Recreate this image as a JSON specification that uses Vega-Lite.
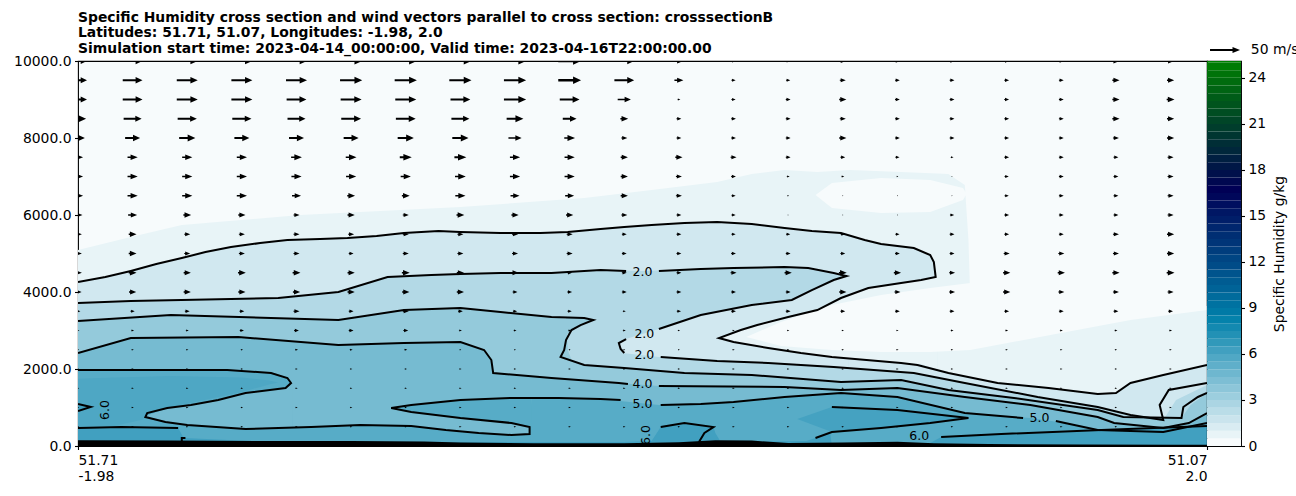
{
"$schema":"https://vega.github.io/schema/vega-lite/v6.json",
"padding":{"left":5,"top":10,"right":5,"bottom":5},
"config":{"view":{"stroke":"black","strokeWidth":1.1,"fill":"#f7fbfc"},"font":"DejaVu Sans",
"axis":{"labelFont":"DejaVu Sans","labelFontSize":13.9,"labelColor":"black","tickColor":"black","tickSize":3.5,"tickWidth":1.1,"domain":false,"grid":false,"titleFont":"DejaVu Sans","titleFontSize":13.9,"titleFontWeight":"normal","titleColor":"black","labelPadding":3.5}},
"datasets":{
"fill":[
{"p":"a01","x":0,"lo":0,"hi":5090,"q":0.75},{"p":"a01","x":2.9,"lo":0,"hi":5428,"q":0.75},{"p":"a01","x":5.7,"lo":0,"hi":5739,"q":0.75},{"p":"a01","x":12.2,"lo":0,"hi":5999,"q":0.75},{"p":"a01","x":21,"lo":0,"hi":6207,"q":0.75},{"p":"a01","x":27.8,"lo":0,"hi":6441,"q":0.75},{"p":"a01","x":31.5,"lo":0,"hi":6648,"q":0.75},{"p":"a01","x":35.1,"lo":0,"hi":6856,"q":0.75},{"p":"a01","x":37,"lo":0,"hi":7064,"q":0.75},{"p":"a01","x":38.8,"lo":0,"hi":7168,"q":0.75},{"p":"a01","x":40.6,"lo":0,"hi":7116,"q":0.75},{"p":"a01","x":42.4,"lo":0,"hi":7168,"q":0.75},{"p":"a01","x":45.2,"lo":0,"hi":7116,"q":0.75},{"p":"a01","x":47.8,"lo":0,"hi":7064,"q":0.75},{"p":"a01","x":48.7,"lo":0,"hi":6778,"q":0.75},{"p":"a01","x":48.9,"lo":0,"hi":5350,"q":0.75},{"p":"a01","x":49,"lo":0,"hi":3792,"q":0.75},{"p":"a01","x":53.4,"lo":0,"hi":3532,"q":0.75},{"p":"a01","x":57.8,"lo":0,"hi":3480,"q":0.75},{"p":"a01","x":62,"lo":0,"hi":3532,"q":0.75},
{"p":"a02","x":0,"lo":0,"hi":4259,"q":1.5},{"p":"a02","x":1.5,"lo":0,"hi":4389,"q":1.5},{"p":"a02","x":2.9,"lo":0,"hi":4545,"q":1.5},{"p":"a02","x":4.3,"lo":0,"hi":4727,"q":1.5},{"p":"a02","x":5.7,"lo":0,"hi":4882,"q":1.5},{"p":"a02","x":7,"lo":0,"hi":5038,"q":1.5},{"p":"a02","x":8.4,"lo":0,"hi":5168,"q":1.5},{"p":"a02","x":10,"lo":0,"hi":5272,"q":1.5},{"p":"a02","x":11.5,"lo":0,"hi":5350,"q":1.5},{"p":"a02","x":13.3,"lo":0,"hi":5376,"q":1.5},{"p":"a02","x":14.8,"lo":0,"hi":5402,"q":1.5},{"p":"a02","x":16.4,"lo":0,"hi":5454,"q":1.5},{"p":"a02","x":17.9,"lo":0,"hi":5532,"q":1.5},{"p":"a02","x":19.8,"lo":0,"hi":5584,"q":1.5},{"p":"a02","x":21,"lo":0,"hi":5558,"q":1.5},{"p":"a02","x":23.2,"lo":0,"hi":5532,"q":1.5},{"p":"a02","x":25.4,"lo":0,"hi":5532,"q":1.5},{"p":"a02","x":26.9,"lo":0,"hi":5558,"q":1.5},{"p":"a02","x":28.7,"lo":0,"hi":5635,"q":1.5},{"p":"a02","x":30,"lo":0,"hi":5687,"q":1.5},{"p":"a02","x":31.5,"lo":0,"hi":5739,"q":1.5},{"p":"a02","x":33.3,"lo":0,"hi":5791,"q":1.5},{"p":"a02","x":35.1,"lo":0,"hi":5817,"q":1.5},{"p":"a02","x":37,"lo":0,"hi":5765,"q":1.5},{"p":"a02","x":38.8,"lo":0,"hi":5661,"q":1.5},{"p":"a02","x":40.3,"lo":0,"hi":5584,"q":1.5},{"p":"a02","x":41.9,"lo":0,"hi":5532,"q":1.5},{"p":"a02","x":43.2,"lo":0,"hi":5350,"q":1.5},{"p":"a02","x":44.1,"lo":0,"hi":5246,"q":1.5},{"p":"a02","x":45.9,"lo":0,"hi":5142,"q":1.5},{"p":"a02","x":46.8,"lo":0,"hi":4960,"q":1.5},{"p":"a02","x":47,"lo":0,"hi":4778,"q":1.5},{"p":"a02","x":47.1,"lo":0,"hi":4389,"q":1.5},{"p":"a02","x":47.2,"lo":0,"hi":1974,"q":1.5},{"p":"a02","x":47.8,"lo":0,"hi":1896,"q":1.5},{"p":"a02","x":50.5,"lo":0,"hi":1636,"q":1.5},{"p":"a02","x":53.3,"lo":0,"hi":1506,"q":1.5},{"p":"a02","x":56,"lo":0,"hi":1350,"q":1.5},{"p":"a02","x":57,"lo":0,"hi":1376,"q":1.5},{"p":"a02","x":57.8,"lo":0,"hi":1636,"q":1.5},{"p":"a02","x":59.6,"lo":0,"hi":1844,"q":1.5},{"p":"a02","x":62,"lo":0,"hi":2104,"q":1.5},
{"p":"a03","x":0,"lo":0,"hi":3714,"q":2.5},{"p":"a03","x":2.9,"lo":0,"hi":3766,"q":2.5},{"p":"a03","x":5.7,"lo":0,"hi":3792,"q":2.5},{"p":"a03","x":8.4,"lo":0,"hi":3818,"q":2.5},{"p":"a03","x":11,"lo":0,"hi":3844,"q":2.5},{"p":"a03","x":14.3,"lo":0,"hi":3999,"q":2.5},{"p":"a03","x":17,"lo":0,"hi":4389,"q":2.5},{"p":"a03","x":19.4,"lo":0,"hi":4441,"q":2.5},{"p":"a03","x":21,"lo":0,"hi":4467,"q":2.5},{"p":"a03","x":23.2,"lo":0,"hi":4493,"q":2.5},{"p":"a03","x":26,"lo":0,"hi":4493,"q":2.5},{"p":"a03","x":28.7,"lo":0,"hi":4571,"q":2.5},{"p":"a03","x":31,"lo":0,"hi":4545,"q":2.5},{"p":"a03","x":34.2,"lo":0,"hi":4597,"q":2.5},{"p":"a03","x":36,"lo":0,"hi":4623,"q":2.5},{"p":"a03","x":38.8,"lo":0,"hi":4649,"q":2.5},{"p":"a03","x":40.1,"lo":0,"hi":4623,"q":2.5},{"p":"a03","x":41.5,"lo":0,"hi":4493,"q":2.5},{"p":"a03","x":42.2,"lo":0,"hi":4415,"q":2.5},{"p":"a03","x":42.3,"lo":0,"hi":2026,"q":2.5},{"p":"a03","x":45.9,"lo":0,"hi":1896,"q":2.5},{"p":"a03","x":48.7,"lo":0,"hi":1636,"q":2.5},{"p":"a03","x":52.7,"lo":0,"hi":1273,"q":2.5},{"p":"a03","x":56,"lo":0,"hi":1013,"q":2.5},{"p":"a03","x":57.8,"lo":0,"hi":805,"q":2.5},{"p":"a03","x":59.6,"lo":0,"hi":675,"q":2.5},{"p":"a03","x":60.3,"lo":0,"hi":1195,"q":2.5},{"p":"a03","x":62,"lo":0,"hi":1584,"q":2.5},
{"p":"a04","x":29.7,"lo":2597,"hi":2597,"q":1.5},{"p":"a04","x":29.9,"lo":2415,"hi":2753,"q":1.5},{"p":"a04","x":31.9,"lo":2311,"hi":3038,"q":1.5},{"p":"a04","x":34.2,"lo":2259,"hi":3402,"q":1.5},{"p":"a04","x":37,"lo":2181,"hi":3662,"q":1.5},{"p":"a04","x":39.2,"lo":2130,"hi":3792,"q":1.5},{"p":"a04","x":40.3,"lo":2104,"hi":4051,"q":1.5},{"p":"a04","x":41.5,"lo":2052,"hi":4311,"q":1.5},{"p":"a04","x":42.2,"lo":2026,"hi":4415,"q":1.5},{"p":"a04","x":42.3,"lo":2026,"hi":4415,"q":1.5},
{"p":"a05","x":35.2,"lo":2805,"hi":2805,"q":0.75},{"p":"a05","x":36,"lo":2701,"hi":2935,"q":0.75},{"p":"a05","x":37.3,"lo":2597,"hi":3142,"q":0.75},{"p":"a05","x":39,"lo":2467,"hi":3350,"q":0.75},{"p":"a05","x":40.6,"lo":2363,"hi":3532,"q":0.75},{"p":"a05","x":41.9,"lo":2285,"hi":3844,"q":0.75},{"p":"a05","x":43.4,"lo":2233,"hi":4103,"q":0.75},{"p":"a05","x":45.2,"lo":2155,"hi":4233,"q":0.75},{"p":"a05","x":46.3,"lo":2130,"hi":4311,"q":0.75},{"p":"a05","x":47.1,"lo":2000,"hi":4389,"q":0.75},{"p":"a05","x":47.2,"lo":1974,"hi":4389,"q":0.75},
{"p":"a06","x":36.7,"lo":2831,"hi":2831,"q":0.25},{"p":"a06","x":38.6,"lo":2597,"hi":3220,"q":0.25},{"p":"a06","x":41.4,"lo":2493,"hi":3662,"q":0.25},{"p":"a06","x":44.1,"lo":2441,"hi":3921,"q":0.25},{"p":"a06","x":46.8,"lo":2441,"hi":4103,"q":0.25},{"p":"a06","x":49,"lo":2493,"hi":4233,"q":0.25},{"p":"a06","x":53.4,"lo":2883,"hi":3844,"q":0.25},{"p":"a06","x":57.8,"lo":3272,"hi":3714,"q":0.25},{"p":"a06","x":62,"lo":3532,"hi":3636,"q":0.25},
{"p":"a07","x":40.5,"lo":6518,"hi":6518,"q":0.25},{"p":"a07","x":41.4,"lo":6181,"hi":6830,"q":0.25},{"p":"a07","x":44.1,"lo":6051,"hi":6960,"q":0.25},{"p":"a07","x":46.8,"lo":6077,"hi":6908,"q":0.25},{"p":"a07","x":48.6,"lo":6389,"hi":6700,"q":0.25},{"p":"a07","x":48.8,"lo":6544,"hi":6544,"q":0.25},
{"p":"a08","x":0,"lo":0,"hi":3246,"q":3.5},{"p":"a08","x":5.1,"lo":0,"hi":3402,"q":3.5},{"p":"a08","x":10.6,"lo":0,"hi":3324,"q":3.5},{"p":"a08","x":14.3,"lo":0,"hi":3272,"q":3.5},{"p":"a08","x":17.9,"lo":0,"hi":3532,"q":3.5},{"p":"a08","x":21,"lo":0,"hi":3584,"q":3.5},{"p":"a08","x":23.2,"lo":0,"hi":3480,"q":3.5},{"p":"a08","x":26,"lo":0,"hi":3350,"q":3.5},{"p":"a08","x":26.8,"lo":0,"hi":3298,"q":3.5},{"p":"a08","x":26.9,"lo":0,"hi":2493,"q":3.5},{"p":"a08","x":27.1,"lo":0,"hi":2233,"q":3.5},{"p":"a08","x":27.8,"lo":0,"hi":2104,"q":3.5},{"p":"a08","x":30,"lo":0,"hi":2026,"q":3.5},{"p":"a08","x":33.3,"lo":0,"hi":1896,"q":3.5},{"p":"a08","x":37,"lo":0,"hi":1844,"q":3.5},{"p":"a08","x":41.9,"lo":0,"hi":1662,"q":3.5},{"p":"a08","x":45.2,"lo":0,"hi":1714,"q":3.5},{"p":"a08","x":47.8,"lo":0,"hi":1454,"q":3.5},{"p":"a08","x":51.4,"lo":0,"hi":1247,"q":3.5},{"p":"a08","x":56,"lo":0,"hi":935,"q":3.5},{"p":"a08","x":57.4,"lo":0,"hi":753,"q":3.5},{"p":"a08","x":60.6,"lo":0,"hi":727,"q":3.5},{"p":"a08","x":61.1,"lo":0,"hi":1065,"q":3.5},{"p":"a08","x":62,"lo":0,"hi":1376,"q":3.5},
{"p":"a09","x":26.8,"lo":2883,"hi":3324,"q":3.5},{"p":"a09","x":27.6,"lo":3142,"hi":3324,"q":3.5},{"p":"a09","x":28.3,"lo":3272,"hi":3272,"q":3.5},
{"p":"a10","x":0,"lo":0,"hi":2415,"q":4.5},{"p":"a10","x":2.9,"lo":0,"hi":2805,"q":4.5},{"p":"a10","x":8.8,"lo":0,"hi":2831,"q":4.5},{"p":"a10","x":14.3,"lo":0,"hi":2623,"q":4.5},{"p":"a10","x":17.9,"lo":0,"hi":2675,"q":4.5},{"p":"a10","x":21,"lo":0,"hi":2701,"q":4.5},{"p":"a10","x":22.3,"lo":0,"hi":2493,"q":4.5},{"p":"a10","x":22.7,"lo":0,"hi":2233,"q":4.5},{"p":"a10","x":22.8,"lo":0,"hi":1896,"q":4.5},{"p":"a10","x":26,"lo":0,"hi":1766,"q":4.5},{"p":"a10","x":29.7,"lo":0,"hi":1636,"q":4.5},{"p":"a10","x":31.9,"lo":0,"hi":1558,"q":4.5},{"p":"a10","x":38.8,"lo":0,"hi":1532,"q":4.5},{"p":"a10","x":41.9,"lo":0,"hi":1454,"q":4.5},{"p":"a10","x":45,"lo":0,"hi":1506,"q":4.5},{"p":"a10","x":48.7,"lo":0,"hi":1273,"q":4.5},{"p":"a10","x":52.3,"lo":0,"hi":1065,"q":4.5},{"p":"a10","x":56,"lo":0,"hi":753,"q":4.5},{"p":"a10","x":56.9,"lo":0,"hi":597,"q":4.5},{"p":"a10","x":59.6,"lo":0,"hi":467,"q":4.5},{"p":"a10","x":61,"lo":0,"hi":597,"q":4.5},{"p":"a10","x":62,"lo":0,"hi":857,"q":4.5},
{"p":"a11","x":0,"lo":0,"hi":1974,"q":5.5},{"p":"a11","x":4.6,"lo":0,"hi":1974,"q":5.5},{"p":"a11","x":8.2,"lo":0,"hi":1974,"q":5.5},{"p":"a11","x":10.6,"lo":0,"hi":1896,"q":5.5},{"p":"a11","x":11.5,"lo":0,"hi":1766,"q":5.5},{"p":"a11","x":11.7,"lo":0,"hi":1636,"q":5.5},{"p":"a11","x":11.8,"lo":0,"hi":467,"q":5.5},{"p":"a11","x":12.8,"lo":0,"hi":493,"q":5.5},{"p":"a11","x":15.5,"lo":0,"hi":545,"q":5.5},{"p":"a11","x":18.3,"lo":0,"hi":519,"q":5.5},{"p":"a11","x":20.2,"lo":0,"hi":416,"q":5.5},{"p":"a11","x":22,"lo":0,"hi":338,"q":5.5},{"p":"a11","x":23.8,"lo":0,"hi":286,"q":5.5},{"p":"a11","x":24.8,"lo":0,"hi":312,"q":5.5},{"p":"a11","x":24.9,"lo":0,"hi":1247,"q":5.5},{"p":"a11","x":26.4,"lo":0,"hi":1247,"q":5.5},{"p":"a11","x":28.7,"lo":0,"hi":1221,"q":5.5},{"p":"a11","x":31.9,"lo":0,"hi":1065,"q":5.5},{"p":"a11","x":34.2,"lo":0,"hi":1091,"q":5.5},{"p":"a11","x":36,"lo":0,"hi":1143,"q":5.5},{"p":"a11","x":38.8,"lo":0,"hi":1273,"q":5.5},{"p":"a11","x":41.9,"lo":0,"hi":1376,"q":5.5},{"p":"a11","x":45,"lo":0,"hi":1273,"q":5.5},{"p":"a11","x":48.7,"lo":0,"hi":857,"q":5.5},{"p":"a11","x":52.3,"lo":0,"hi":727,"q":5.5},{"p":"a11","x":54.2,"lo":0,"hi":597,"q":5.5},{"p":"a11","x":56,"lo":0,"hi":416,"q":5.5},{"p":"a11","x":59.6,"lo":0,"hi":364,"q":5.5},{"p":"a11","x":62,"lo":0,"hi":597,"q":5.5},
{"p":"a11b","x":0,"lo":500,"hi":1750,"q":5.8},{"p":"a11b","x":2,"lo":520,"hi":1780,"q":5.8},{"p":"a11b","x":3.7,"lo":700,"hi":1800,"q":5.8},{"p":"a11b","x":5,"lo":1000,"hi":1820,"q":5.8},{"p":"a11b","x":7,"lo":1200,"hi":1800,"q":5.8},{"p":"a11b","x":9,"lo":1400,"hi":1780,"q":5.8},{"p":"a11b","x":10.5,"lo":1600,"hi":1700,"q":5.8},{"p":"a11b","x":11,"lo":1650,"hi":1650,"q":5.8},
{"p":"a12","x":3.7,"lo":779,"hi":779,"q":4.5},{"p":"a12","x":4.8,"lo":623,"hi":961,"q":4.5},{"p":"a12","x":6,"lo":545,"hi":1065,"q":4.5},{"p":"a12","x":7.7,"lo":493,"hi":1195,"q":4.5},{"p":"a12","x":9.2,"lo":467,"hi":1376,"q":4.5},{"p":"a12","x":10.6,"lo":467,"hi":1480,"q":4.5},{"p":"a12","x":11.4,"lo":467,"hi":1506,"q":4.5},{"p":"a12","x":11.7,"lo":467,"hi":1636,"q":4.5},{"p":"a12","x":11.8,"lo":467,"hi":1636,"q":4.5},
{"p":"a13","x":17.2,"lo":987,"hi":987,"q":5.5},{"p":"a13","x":18.3,"lo":883,"hi":1065,"q":5.5},{"p":"a13","x":21,"lo":727,"hi":1195,"q":5.5},{"p":"a13","x":23.8,"lo":597,"hi":1247,"q":5.5},{"p":"a13","x":24.8,"lo":493,"hi":1247,"q":5.5},{"p":"a13","x":24.9,"lo":312,"hi":1247,"q":5.5},
{"p":"a14","x":0,"lo":0,"hi":467,"q":6.25},{"p":"a14","x":2.4,"lo":0,"hi":493,"q":6.25},{"p":"a14","x":5.5,"lo":0,"hi":467,"q":6.25},{"p":"a14","x":5.8,"lo":0,"hi":208,"q":6.25},{"p":"a14","x":9.5,"lo":0,"hi":130,"q":6.25},{"p":"a14","x":20,"lo":0,"hi":104,"q":6.25},{"p":"a14","x":30,"lo":0,"hi":104,"q":6.25},{"p":"a14","x":31.5,"lo":0,"hi":130,"q":6.25},{"p":"a14","x":32,"lo":0,"hi":493,"q":6.25},{"p":"a14","x":33.3,"lo":0,"hi":597,"q":6.25},{"p":"a14","x":34.9,"lo":0,"hi":493,"q":6.25},{"p":"a14","x":35,"lo":0,"hi":338,"q":6.25},{"p":"a14","x":35.3,"lo":0,"hi":104,"q":6.25},{"p":"a14","x":40,"lo":0,"hi":130,"q":6.25},{"p":"a14","x":40.5,"lo":0,"hi":208,"q":6.25},{"p":"a14","x":41.3,"lo":0,"hi":364,"q":6.25},{"p":"a14","x":41.4,"lo":0,"hi":0,"q":6.25},
{"p":"a15","x":0,"lo":909,"hi":1091,"q":6.25},{"p":"a15","x":0.7,"lo":1013,"hi":1013,"q":6.25},
{"p":"a16","x":39.5,"lo":700,"hi":700,"q":6.1},{"p":"a16","x":41.4,"lo":364,"hi":1013,"q":6.1},{"p":"a16","x":44.1,"lo":467,"hi":961,"q":6.1},{"p":"a16","x":45,"lo":493,"hi":935,"q":6.1},{"p":"a16","x":46.8,"lo":597,"hi":831,"q":6.1},{"p":"a16","x":48.9,"lo":727,"hi":727,"q":6.1},
{"p":"a17","x":46.5,"lo":0,"hi":0,"q":6.25},{"p":"a17","x":47.4,"lo":0,"hi":234,"q":6.25},{"p":"a17","x":50.7,"lo":0,"hi":312,"q":6.25},{"p":"a17","x":56.2,"lo":0,"hi":416,"q":6.25},{"p":"a17","x":62,"lo":0,"hi":519,"q":6.25}
],
"terrain":[{"x":0,"h":150},{"x":5,"h":140},{"x":10,"h":130},{"x":15,"h":130},{"x":19,"h":120},{"x":21,"h":90},{"x":25,"h":70},{"x":30,"h":70},{"x":33,"h":100},{"x":35,"h":150},{"x":37,"h":140},{"x":39,"h":80},{"x":42,"h":90},{"x":45,"h":110},{"x":47,"h":70},{"x":50,"h":50},{"x":55,"h":40},{"x":60,"h":30},{"x":62,"h":30}],
"cont":[
{"c":"c1","o":1,"x":0,"z":4259},{"c":"c1","o":2,"x":1.5,"z":4389},{"c":"c1","o":3,"x":2.9,"z":4545},{"c":"c1","o":4,"x":4.3,"z":4727},{"c":"c1","o":5,"x":5.7,"z":4882},{"c":"c1","o":6,"x":7,"z":5038},{"c":"c1","o":7,"x":8.4,"z":5168},{"c":"c1","o":8,"x":10,"z":5272},{"c":"c1","o":9,"x":11.5,"z":5350},{"c":"c1","o":10,"x":13.3,"z":5376},{"c":"c1","o":11,"x":14.8,"z":5402},{"c":"c1","o":12,"x":16.4,"z":5454},{"c":"c1","o":13,"x":17.9,"z":5532},{"c":"c1","o":14,"x":19.8,"z":5584},{"c":"c1","o":15,"x":21,"z":5558},{"c":"c1","o":16,"x":23.2,"z":5532},{"c":"c1","o":17,"x":25.4,"z":5532},{"c":"c1","o":18,"x":26.9,"z":5558},{"c":"c1","o":19,"x":28.7,"z":5635},{"c":"c1","o":20,"x":30,"z":5687},{"c":"c1","o":21,"x":31.5,"z":5739},{"c":"c1","o":22,"x":33.3,"z":5791},{"c":"c1","o":23,"x":35.1,"z":5817},{"c":"c1","o":24,"x":37,"z":5765},{"c":"c1","o":25,"x":38.8,"z":5661},{"c":"c1","o":26,"x":40.3,"z":5584},{"c":"c1","o":27,"x":41.9,"z":5532},{"c":"c1","o":28,"x":43.2,"z":5350},{"c":"c1","o":29,"x":44.1,"z":5246},{"c":"c1","o":30,"x":45.9,"z":5142},{"c":"c1","o":31,"x":46.8,"z":4960},{"c":"c1","o":32,"x":47,"z":4778},{"c":"c1","o":33,"x":47.1,"z":4389},{"c":"c1","o":34,"x":46.3,"z":4311},{"c":"c1","o":35,"x":45.2,"z":4233},{"c":"c1","o":36,"x":43.4,"z":4103},{"c":"c1","o":37,"x":41.9,"z":3844},{"c":"c1","o":38,"x":40.6,"z":3532},{"c":"c1","o":39,"x":39,"z":3350},{"c":"c1","o":40,"x":37.3,"z":3142},{"c":"c1","o":41,"x":36.4,"z":3013},{"c":"c1","o":42,"x":35.2,"z":2805},{"c":"c1","o":43,"x":36,"z":2701},{"c":"c1","o":44,"x":37.9,"z":2545},{"c":"c1","o":45,"x":39.7,"z":2415},{"c":"c1","o":46,"x":41.4,"z":2311},{"c":"c1","o":47,"x":45.2,"z":2155},{"c":"c1","o":48,"x":46.1,"z":2104},{"c":"c1","o":49,"x":47.8,"z":1896},{"c":"c1","o":50,"x":50.5,"z":1636},{"c":"c1","o":51,"x":53.3,"z":1506},{"c":"c1","o":52,"x":56,"z":1350},{"c":"c1","o":53,"x":57,"z":1376},{"c":"c1","o":54,"x":57.8,"z":1636},{"c":"c1","o":55,"x":59.6,"z":1844},{"c":"c1","o":56,"x":62,"z":2104},
{"c":"c2a","o":1,"x":0,"z":3714},{"c":"c2a","o":2,"x":2.9,"z":3766},{"c":"c2a","o":3,"x":5.7,"z":3792},{"c":"c2a","o":4,"x":8.4,"z":3818},{"c":"c2a","o":5,"x":11,"z":3844},{"c":"c2a","o":6,"x":14.3,"z":3999},{"c":"c2a","o":7,"x":17,"z":4389},{"c":"c2a","o":8,"x":19.4,"z":4441},{"c":"c2a","o":9,"x":21,"z":4467},{"c":"c2a","o":10,"x":23.2,"z":4493},{"c":"c2a","o":11,"x":26,"z":4493},{"c":"c2a","o":12,"x":28.7,"z":4571},{"c":"c2a","o":13,"x":30.1,"z":4545},
{"c":"c2b","o":1,"x":31.9,"z":4545},{"c":"c2b","o":2,"x":34.2,"z":4597},{"c":"c2b","o":3,"x":36,"z":4623},{"c":"c2b","o":4,"x":38.8,"z":4649},{"c":"c2b","o":5,"x":40.1,"z":4623},{"c":"c2b","o":6,"x":41.5,"z":4493},{"c":"c2b","o":7,"x":42.2,"z":4415},{"c":"c2b","o":8,"x":41.5,"z":4311},{"c":"c2b","o":9,"x":40.3,"z":4051},{"c":"c2b","o":10,"x":39.2,"z":3792},{"c":"c2b","o":11,"x":37,"z":3662},{"c":"c2b","o":12,"x":34.2,"z":3402},{"c":"c2b","o":13,"x":31.9,"z":3038},
{"c":"c2c","o":1,"x":30.1,"z":2779},{"c":"c2c","o":2,"x":29.7,"z":2675},{"c":"c2c","o":3,"x":29.8,"z":2519},{"c":"c2c","o":4,"x":30,"z":2415},
{"c":"c2d","o":1,"x":32,"z":2311},{"c":"c2d","o":2,"x":35.1,"z":2207},{"c":"c2d","o":3,"x":37.9,"z":2155},{"c":"c2d","o":4,"x":41.5,"z":2052},{"c":"c2d","o":5,"x":45.9,"z":1896},{"c":"c2d","o":6,"x":48.7,"z":1636},{"c":"c2d","o":7,"x":52.7,"z":1273},{"c":"c2d","o":8,"x":56,"z":1013},{"c":"c2d","o":9,"x":57.8,"z":805},{"c":"c2d","o":10,"x":59.6,"z":675},{"c":"c2d","o":11,"x":59.4,"z":1065},{"c":"c2d","o":12,"x":59.9,"z":1454},{"c":"c2d","o":13,"x":62,"z":1636},
{"c":"c3","o":1,"x":0,"z":3246},{"c":"c3","o":2,"x":5.1,"z":3402},{"c":"c3","o":3,"x":10.6,"z":3324},{"c":"c3","o":4,"x":14.3,"z":3272},{"c":"c3","o":5,"x":17.9,"z":3532},{"c":"c3","o":6,"x":21,"z":3584},{"c":"c3","o":7,"x":23.2,"z":3480},{"c":"c3","o":8,"x":26,"z":3350},{"c":"c3","o":9,"x":27.8,"z":3324},{"c":"c3","o":10,"x":28.3,"z":3272},{"c":"c3","o":11,"x":27.6,"z":3142},{"c":"c3","o":12,"x":27.1,"z":3013},{"c":"c3","o":13,"x":26.8,"z":2753},{"c":"c3","o":14,"x":26.7,"z":2493},{"c":"c3","o":15,"x":26.5,"z":2311},{"c":"c3","o":16,"x":27.8,"z":2104},{"c":"c3","o":17,"x":30,"z":2026},{"c":"c3","o":18,"x":33.3,"z":1896},{"c":"c3","o":19,"x":37,"z":1844},{"c":"c3","o":20,"x":41.9,"z":1662},{"c":"c3","o":21,"x":45.2,"z":1714},{"c":"c3","o":22,"x":47.8,"z":1454},{"c":"c3","o":23,"x":51.4,"z":1247},{"c":"c3","o":24,"x":56,"z":935},{"c":"c3","o":25,"x":57.4,"z":753},{"c":"c3","o":26,"x":60.6,"z":727},{"c":"c3","o":27,"x":60.7,"z":1013},{"c":"c3","o":28,"x":61.5,"z":1273},{"c":"c3","o":29,"x":62,"z":1376},
{"c":"c4a","o":1,"x":0,"z":2415},{"c":"c4a","o":2,"x":2.9,"z":2805},{"c":"c4a","o":3,"x":8.8,"z":2831},{"c":"c4a","o":4,"x":14.3,"z":2623},{"c":"c4a","o":5,"x":17.9,"z":2675},{"c":"c4a","o":6,"x":21,"z":2701},{"c":"c4a","o":7,"x":22.3,"z":2493},{"c":"c4a","o":8,"x":22.7,"z":2233},{"c":"c4a","o":9,"x":22.8,"z":1896},{"c":"c4a","o":10,"x":26,"z":1766},{"c":"c4a","o":11,"x":29.7,"z":1636},{"c":"c4a","o":12,"x":30.2,"z":1610},
{"c":"c4b","o":1,"x":31.9,"z":1558},{"c":"c4b","o":2,"x":38.8,"z":1532},{"c":"c4b","o":3,"x":41.9,"z":1454},{"c":"c4b","o":4,"x":45,"z":1506},{"c":"c4b","o":5,"x":48.7,"z":1273},{"c":"c4b","o":6,"x":52.3,"z":1065},{"c":"c4b","o":7,"x":56,"z":753},{"c":"c4b","o":8,"x":56.9,"z":597},{"c":"c4b","o":9,"x":59.6,"z":467},{"c":"c4b","o":10,"x":61,"z":597},{"c":"c4b","o":11,"x":62,"z":857},
{"c":"c5a","o":1,"x":0,"z":1974},{"c":"c5a","o":2,"x":4.6,"z":1974},{"c":"c5a","o":3,"x":8.2,"z":1974},{"c":"c5a","o":4,"x":10.6,"z":1896},{"c":"c5a","o":5,"x":11.5,"z":1766},{"c":"c5a","o":6,"x":11.7,"z":1636},{"c":"c5a","o":7,"x":11.4,"z":1506},{"c":"c5a","o":8,"x":9.2,"z":1376},{"c":"c5a","o":9,"x":7.7,"z":1195},{"c":"c5a","o":10,"x":6.2,"z":1065},{"c":"c5a","o":11,"x":4.9,"z":987},{"c":"c5a","o":12,"x":3.8,"z":857},{"c":"c5a","o":13,"x":3.7,"z":753},{"c":"c5a","o":14,"x":4.8,"z":623},{"c":"c5a","o":15,"x":6,"z":545},{"c":"c5a","o":16,"x":9.2,"z":441},{"c":"c5a","o":17,"x":12.8,"z":493},{"c":"c5a","o":18,"x":15.5,"z":545},{"c":"c5a","o":19,"x":18.3,"z":519},{"c":"c5a","o":20,"x":20.2,"z":416},{"c":"c5a","o":21,"x":22,"z":338},{"c":"c5a","o":22,"x":23.8,"z":286},{"c":"c5a","o":23,"x":24.8,"z":312},{"c":"c5a","o":24,"x":24.8,"z":493},{"c":"c5a","o":25,"x":23.8,"z":597},{"c":"c5a","o":26,"x":21,"z":727},{"c":"c5a","o":27,"x":18.3,"z":883},{"c":"c5a","o":28,"x":17.2,"z":987},{"c":"c5a","o":29,"x":18.3,"z":1065},{"c":"c5a","o":30,"x":21,"z":1195},{"c":"c5a","o":31,"x":23.8,"z":1247},{"c":"c5a","o":32,"x":26.4,"z":1247},{"c":"c5a","o":33,"x":28.7,"z":1221},{"c":"c5a","o":34,"x":29.8,"z":1195},
{"c":"c5b","o":1,"x":32,"z":1065},{"c":"c5b","o":2,"x":34.2,"z":1091},{"c":"c5b","o":3,"x":36,"z":1143},{"c":"c5b","o":4,"x":38.8,"z":1273},{"c":"c5b","o":5,"x":41.9,"z":1376},{"c":"c5b","o":6,"x":45,"z":1273},{"c":"c5b","o":7,"x":48.7,"z":857},{"c":"c5b","o":8,"x":51.9,"z":727},
{"c":"c5c","o":1,"x":53.7,"z":649},{"c":"c5c","o":2,"x":54.2,"z":597},{"c":"c5c","o":3,"x":56,"z":416},{"c":"c5c","o":4,"x":59.6,"z":364},{"c":"c5c","o":5,"x":62,"z":597},
{"c":"c6a","o":1,"x":0,"z":1091},{"c":"c6a","o":2,"x":0.7,"z":1013},{"c":"c6a","o":3,"x":0,"z":909},
{"c":"c6b","o":1,"x":0,"z":467},{"c":"c6b","o":2,"x":2.4,"z":493},{"c":"c6b","o":3,"x":5.5,"z":467},
{"c":"c6f","o":1,"x":5.9,"z":208},{"c":"c6f","o":2,"x":5.7,"z":208},{"c":"c6f","o":3,"x":5.7,"z":0},
{"c":"c6c","o":1,"x":32,"z":493},{"c":"c6c","o":2,"x":33.3,"z":597},{"c":"c6c","o":3,"x":34.9,"z":493},{"c":"c6c","o":4,"x":34.4,"z":338},{"c":"c6c","o":5,"x":34.1,"z":104},
{"c":"c6d","o":1,"x":41.4,"z":1013},{"c":"c6d","o":2,"x":45,"z":935},{"c":"c6d","o":3,"x":48.9,"z":727},{"c":"c6d","o":4,"x":46.8,"z":597},{"c":"c6d","o":5,"x":44.1,"z":467},{"c":"c6d","o":6,"x":41.4,"z":364},{"c":"c6d","o":7,"x":40.5,"z":208},
{"c":"c6e","o":1,"x":47.4,"z":234},{"c":"c6e","o":2,"x":50.7,"z":312},{"c":"c6e","o":3,"x":56.2,"z":416},{"c":"c6e","o":4,"x":62,"z":519}
],
"labs":[{"t":"2.0","x":31,"z":4519},{"t":"2.0","x":31.1,"z":2909},{"t":"2.0","x":31.1,"z":2363},{"t":"4.0","x":31,"z":1610},{"t":"5.0","x":31,"z":1091},{"t":"5.0","x":52.8,"z":727},{"t":"6.0","x":46.2,"z":260}],
"vlabs":[{"t":"6.0","x":1.5,"z":935},{"t":"6.0","x":31.2,"z":286}],
"wind":[
{"x":0,"z":10000,"s":30},{"x":3,"z":10000,"s":33},{"x":6,"z":10000,"s":35},{"x":9,"z":10000,"s":35},{"x":12,"z":10000,"s":35},{"x":15,"z":10000,"s":37},{"x":18,"z":10000,"s":37},{"x":21,"z":10000,"s":37},{"x":24,"z":10000,"s":37},{"x":27,"z":10000,"s":38},{"x":30,"z":10000,"s":33},{"x":33,"z":10000,"s":15},{"x":36,"z":10000,"s":7},{"x":39,"z":10000,"s":7},{"x":42,"z":10000,"s":10},{"x":45,"z":10000,"s":8},{"x":48,"z":10000,"s":8},{"x":51,"z":10000,"s":8},{"x":54,"z":10000,"s":8},{"x":57,"z":10000,"s":12},{"x":60,"z":10000,"s":12},
{"x":0,"z":9500,"s":30},{"x":3,"z":9500,"s":33},{"x":6,"z":9500,"s":35},{"x":9,"z":9500,"s":35},{"x":12,"z":9500,"s":35},{"x":15,"z":9500,"s":37},{"x":18,"z":9500,"s":37},{"x":21,"z":9500,"s":37},{"x":24,"z":9500,"s":37},{"x":27,"z":9500,"s":38},{"x":30,"z":9500,"s":33},{"x":33,"z":9500,"s":15},{"x":36,"z":9500,"s":7},{"x":39,"z":9500,"s":7},{"x":42,"z":9500,"s":10},{"x":45,"z":9500,"s":8},{"x":48,"z":9500,"s":8},{"x":51,"z":9500,"s":8},{"x":54,"z":9500,"s":8},{"x":57,"z":9500,"s":12},{"x":60,"z":9500,"s":12},
{"x":0,"z":9000,"s":30},{"x":3,"z":9000,"s":33},{"x":6,"z":9000,"s":35},{"x":9,"z":9000,"s":35},{"x":12,"z":9000,"s":33},{"x":15,"z":9000,"s":35},{"x":18,"z":9000,"s":35},{"x":21,"z":9000,"s":33},{"x":24,"z":9000,"s":37},{"x":27,"z":9000,"s":33},{"x":30,"z":9000,"s":22},{"x":33,"z":9000,"s":5},{"x":36,"z":9000,"s":7},{"x":39,"z":9000,"s":8},{"x":42,"z":9000,"s":12},{"x":45,"z":9000,"s":8},{"x":48,"z":9000,"s":8},{"x":51,"z":9000,"s":8},{"x":54,"z":9000,"s":8},{"x":57,"z":9000,"s":12},{"x":60,"z":9000,"s":13},
{"x":0,"z":8500,"s":27},{"x":3,"z":8500,"s":30},{"x":6,"z":8500,"s":32},{"x":9,"z":8500,"s":32},{"x":12,"z":8500,"s":30},{"x":15,"z":8500,"s":33},{"x":18,"z":8500,"s":33},{"x":21,"z":8500,"s":30},{"x":24,"z":8500,"s":28},{"x":27,"z":8500,"s":23},{"x":30,"z":8500,"s":13},{"x":33,"z":8500,"s":8},{"x":36,"z":8500,"s":8},{"x":39,"z":8500,"s":8},{"x":42,"z":8500,"s":10},{"x":45,"z":8500,"s":8},{"x":48,"z":8500,"s":8},{"x":51,"z":8500,"s":8},{"x":54,"z":8500,"s":8},{"x":57,"z":8500,"s":12},{"x":60,"z":8500,"s":12},
{"x":0,"z":8000,"s":23},{"x":3,"z":8000,"s":25},{"x":6,"z":8000,"s":27},{"x":9,"z":8000,"s":25},{"x":12,"z":8000,"s":25},{"x":15,"z":8000,"s":25},{"x":18,"z":8000,"s":27},{"x":21,"z":8000,"s":27},{"x":24,"z":8000,"s":22},{"x":27,"z":8000,"s":18},{"x":30,"z":8000,"s":10},{"x":33,"z":8000,"s":8},{"x":36,"z":8000,"s":8},{"x":39,"z":8000,"s":8},{"x":42,"z":8000,"s":12},{"x":45,"z":8000,"s":8},{"x":48,"z":8000,"s":8},{"x":51,"z":8000,"s":8},{"x":54,"z":8000,"s":8},{"x":57,"z":8000,"s":10},{"x":60,"z":8000,"s":12},
{"x":0,"z":7500,"s":17},{"x":3,"z":7500,"s":17},{"x":6,"z":7500,"s":17},{"x":9,"z":7500,"s":17},{"x":12,"z":7500,"s":18},{"x":15,"z":7500,"s":18},{"x":18,"z":7500,"s":20},{"x":21,"z":7500,"s":20},{"x":24,"z":7500,"s":17},{"x":27,"z":7500,"s":17},{"x":30,"z":7500,"s":12},{"x":33,"z":7500,"s":12},{"x":36,"z":7500,"s":10},{"x":39,"z":7500,"s":8},{"x":42,"z":7500,"s":8},{"x":45,"z":7500,"s":7},{"x":48,"z":7500,"s":5},{"x":51,"z":7500,"s":8},{"x":54,"z":7500,"s":8},{"x":57,"z":7500,"s":8},{"x":60,"z":7500,"s":10},
{"x":0,"z":7000,"s":17},{"x":3,"z":7000,"s":17},{"x":6,"z":7000,"s":17},{"x":9,"z":7000,"s":17},{"x":12,"z":7000,"s":17},{"x":15,"z":7000,"s":17},{"x":18,"z":7000,"s":17},{"x":21,"z":7000,"s":18},{"x":24,"z":7000,"s":17},{"x":27,"z":7000,"s":17},{"x":30,"z":7000,"s":12},{"x":33,"z":7000,"s":10},{"x":36,"z":7000,"s":8},{"x":39,"z":7000,"s":5},{"x":42,"z":7000,"s":5},{"x":45,"z":7000,"s":3},{"x":48,"z":7000,"s":2},{"x":51,"z":7000,"s":7},{"x":54,"z":7000,"s":8},{"x":57,"z":7000,"s":8},{"x":60,"z":7000,"s":10},
{"x":0,"z":6500,"s":17},{"x":3,"z":6500,"s":17},{"x":6,"z":6500,"s":17},{"x":9,"z":6500,"s":17},{"x":12,"z":6500,"s":15},{"x":15,"z":6500,"s":13},{"x":18,"z":6500,"s":13},{"x":21,"z":6500,"s":17},{"x":24,"z":6500,"s":15},{"x":27,"z":6500,"s":15},{"x":30,"z":6500,"s":12},{"x":33,"z":6500,"s":10},{"x":36,"z":6500,"s":7},{"x":39,"z":6500,"s":3},{"x":42,"z":6500,"s":2},{"x":45,"z":6500,"s":2},{"x":48,"z":6500,"s":2},{"x":51,"z":6500,"s":7},{"x":54,"z":6500,"s":8},{"x":57,"z":6500,"s":8},{"x":60,"z":6500,"s":10},
{"x":0,"z":6000,"s":15},{"x":3,"z":6000,"s":15},{"x":6,"z":6000,"s":13},{"x":9,"z":6000,"s":12},{"x":12,"z":6000,"s":10},{"x":15,"z":6000,"s":12},{"x":18,"z":6000,"s":10},{"x":21,"z":6000,"s":13},{"x":24,"z":6000,"s":12},{"x":27,"z":6000,"s":12},{"x":30,"z":6000,"s":10},{"x":33,"z":6000,"s":8},{"x":36,"z":6000,"s":7},{"x":39,"z":6000,"s":2},{"x":42,"z":6000,"s":2},{"x":45,"z":6000,"s":2},{"x":48,"z":6000,"s":7},{"x":51,"z":6000,"s":8},{"x":54,"z":6000,"s":8},{"x":57,"z":6000,"s":8},{"x":60,"z":6000,"s":10},
{"x":0,"z":5500,"s":13},{"x":3,"z":5500,"s":13},{"x":6,"z":5500,"s":10},{"x":9,"z":5500,"s":10},{"x":12,"z":5500,"s":10},{"x":15,"z":5500,"s":10},{"x":18,"z":5500,"s":10},{"x":21,"z":5500,"s":10},{"x":24,"z":5500,"s":10},{"x":27,"z":5500,"s":10},{"x":30,"z":5500,"s":8},{"x":33,"z":5500,"s":8},{"x":36,"z":5500,"s":7},{"x":39,"z":5500,"s":7},{"x":42,"z":5500,"s":7},{"x":45,"z":5500,"s":7},{"x":48,"z":5500,"s":8},{"x":51,"z":5500,"s":8},{"x":54,"z":5500,"s":8},{"x":57,"z":5500,"s":10},{"x":60,"z":5500,"s":12},
{"x":0,"z":5000,"s":13},{"x":3,"z":5000,"s":13},{"x":6,"z":5000,"s":10},{"x":9,"z":5000,"s":10},{"x":12,"z":5000,"s":10},{"x":15,"z":5000,"s":8},{"x":18,"z":5000,"s":10},{"x":21,"z":5000,"s":10},{"x":24,"z":5000,"s":10},{"x":27,"z":5000,"s":10},{"x":30,"z":5000,"s":8},{"x":33,"z":5000,"s":8},{"x":36,"z":5000,"s":8},{"x":39,"z":5000,"s":8},{"x":42,"z":5000,"s":8},{"x":45,"z":5000,"s":8},{"x":48,"z":5000,"s":8},{"x":51,"z":5000,"s":10},{"x":54,"z":5000,"s":10},{"x":57,"z":5000,"s":10},{"x":60,"z":5000,"s":12},
{"x":0,"z":4500,"s":13},{"x":3,"z":4500,"s":13},{"x":6,"z":4500,"s":12},{"x":9,"z":4500,"s":13},{"x":12,"z":4500,"s":13},{"x":15,"z":4500,"s":12},{"x":18,"z":4500,"s":13},{"x":21,"z":4500,"s":12},{"x":24,"z":4500,"s":12},{"x":27,"z":4500,"s":8},{"x":30,"z":4500,"s":8},{"x":33,"z":4500,"s":8},{"x":36,"z":4500,"s":10},{"x":39,"z":4500,"s":12},{"x":42,"z":4500,"s":13},{"x":45,"z":4500,"s":12},{"x":48,"z":4500,"s":10},{"x":51,"z":4500,"s":12},{"x":54,"z":4500,"s":12},{"x":57,"z":4500,"s":12},{"x":60,"z":4500,"s":13},
{"x":0,"z":4000,"s":12},{"x":3,"z":4000,"s":12},{"x":6,"z":4000,"s":12},{"x":9,"z":4000,"s":12},{"x":12,"z":4000,"s":12},{"x":15,"z":4000,"s":12},{"x":18,"z":4000,"s":12},{"x":21,"z":4000,"s":12},{"x":24,"z":4000,"s":8},{"x":27,"z":4000,"s":8},{"x":30,"z":4000,"s":8},{"x":33,"z":4000,"s":8},{"x":36,"z":4000,"s":8},{"x":39,"z":4000,"s":8},{"x":42,"z":4000,"s":12},{"x":45,"z":4000,"s":10},{"x":48,"z":4000,"s":10},{"x":51,"z":4000,"s":12},{"x":54,"z":4000,"s":10},{"x":57,"z":4000,"s":10},{"x":60,"z":4000,"s":10},
{"x":0,"z":3500,"s":8},{"x":3,"z":3500,"s":7},{"x":6,"z":3500,"s":8},{"x":9,"z":3500,"s":8},{"x":12,"z":3500,"s":10},{"x":15,"z":3500,"s":8},{"x":18,"z":3500,"s":10},{"x":21,"z":3500,"s":8},{"x":24,"z":3500,"s":7},{"x":27,"z":3500,"s":7},{"x":30,"z":3500,"s":5},{"x":33,"z":3500,"s":7},{"x":36,"z":3500,"s":8},{"x":39,"z":3500,"s":8},{"x":42,"z":3500,"s":8},{"x":45,"z":3500,"s":8},{"x":48,"z":3500,"s":8},{"x":51,"z":3500,"s":8},{"x":54,"z":3500,"s":8},{"x":57,"z":3500,"s":8},{"x":60,"z":3500,"s":8},
{"x":0,"z":3000,"s":5},{"x":3,"z":3000,"s":5},{"x":6,"z":3000,"s":5},{"x":9,"z":3000,"s":7},{"x":12,"z":3000,"s":8},{"x":15,"z":3000,"s":8},{"x":18,"z":3000,"s":8},{"x":21,"z":3000,"s":5},{"x":24,"z":3000,"s":5},{"x":27,"z":3000,"s":5},{"x":30,"z":3000,"s":5},{"x":33,"z":3000,"s":4},{"x":36,"z":3000,"s":4},{"x":39,"z":3000,"s":4},{"x":42,"z":3000,"s":4},{"x":45,"z":3000,"s":4},{"x":48,"z":3000,"s":5},{"x":51,"z":3000,"s":5},{"x":54,"z":3000,"s":5},{"x":57,"z":3000,"s":5},{"x":60,"z":3000,"s":5},
{"x":0,"z":2500,"s":4},{"x":3,"z":2500,"s":4},{"x":6,"z":2500,"s":4},{"x":9,"z":2500,"s":4},{"x":12,"z":2500,"s":5},{"x":15,"z":2500,"s":5},{"x":18,"z":2500,"s":5},{"x":21,"z":2500,"s":3},{"x":24,"z":2500,"s":3},{"x":27,"z":2500,"s":3},{"x":30,"z":2500,"s":3},{"x":33,"z":2500,"s":3},{"x":36,"z":2500,"s":4},{"x":39,"z":2500,"s":4},{"x":42,"z":2500,"s":4},{"x":45,"z":2500,"s":4},{"x":48,"z":2500,"s":4},{"x":51,"z":2500,"s":4},{"x":54,"z":2500,"s":4},{"x":57,"z":2500,"s":4},{"x":60,"z":2500,"s":4},
{"x":0,"z":2000,"s":4},{"x":3,"z":2000,"s":4},{"x":6,"z":2000,"s":4},{"x":9,"z":2000,"s":4},{"x":12,"z":2000,"s":4},{"x":15,"z":2000,"s":4},{"x":18,"z":2000,"s":4},{"x":21,"z":2000,"s":4},{"x":24,"z":2000,"s":4},{"x":27,"z":2000,"s":4},{"x":30,"z":2000,"s":4},{"x":33,"z":2000,"s":4},{"x":36,"z":2000,"s":4},{"x":39,"z":2000,"s":4},{"x":42,"z":2000,"s":4},{"x":45,"z":2000,"s":4},{"x":48,"z":2000,"s":4},{"x":51,"z":2000,"s":4},{"x":54,"z":2000,"s":4},{"x":57,"z":2000,"s":4},{"x":60,"z":2000,"s":4},
{"x":0,"z":1500,"s":4},{"x":3,"z":1500,"s":4},{"x":6,"z":1500,"s":4},{"x":9,"z":1500,"s":4},{"x":12,"z":1500,"s":4},{"x":15,"z":1500,"s":4},{"x":18,"z":1500,"s":4},{"x":21,"z":1500,"s":4},{"x":24,"z":1500,"s":4},{"x":27,"z":1500,"s":4},{"x":30,"z":1500,"s":4},{"x":33,"z":1500,"s":4},{"x":36,"z":1500,"s":4},{"x":39,"z":1500,"s":4},{"x":42,"z":1500,"s":4},{"x":45,"z":1500,"s":4},{"x":48,"z":1500,"s":4},{"x":51,"z":1500,"s":4},{"x":54,"z":1500,"s":4},{"x":57,"z":1500,"s":4},{"x":60,"z":1500,"s":4},
{"x":0,"z":1000,"s":4},{"x":3,"z":1000,"s":4},{"x":6,"z":1000,"s":4},{"x":9,"z":1000,"s":4},{"x":12,"z":1000,"s":4},{"x":15,"z":1000,"s":4},{"x":18,"z":1000,"s":4},{"x":21,"z":1000,"s":4},{"x":24,"z":1000,"s":4},{"x":27,"z":1000,"s":4},{"x":30,"z":1000,"s":4},{"x":33,"z":1000,"s":4},{"x":36,"z":1000,"s":4},{"x":39,"z":1000,"s":4},{"x":42,"z":1000,"s":4},{"x":45,"z":1000,"s":4},{"x":48,"z":1000,"s":4},{"x":51,"z":1000,"s":4},{"x":54,"z":1000,"s":4},{"x":57,"z":1000,"s":4},{"x":60,"z":1000,"s":4},
{"x":0,"z":500,"s":4},{"x":3,"z":500,"s":4},{"x":6,"z":500,"s":4},{"x":9,"z":500,"s":4},{"x":12,"z":500,"s":4},{"x":15,"z":500,"s":4},{"x":18,"z":500,"s":4},{"x":21,"z":500,"s":4},{"x":24,"z":500,"s":4},{"x":27,"z":500,"s":4},{"x":30,"z":500,"s":4},{"x":33,"z":500,"s":4},{"x":36,"z":500,"s":4},{"x":39,"z":500,"s":4},{"x":42,"z":500,"s":4},{"x":45,"z":500,"s":4},{"x":48,"z":500,"s":4},{"x":51,"z":500,"s":4},{"x":54,"z":500,"s":4},{"x":57,"z":500,"s":4},{"x":60,"z":500,"s":4}
],
"cbar":[
{"lo":0,"hi":0.5,"c":0.25},{"lo":0.5,"hi":1,"c":0.75},{"lo":1,"hi":1.5,"c":1.25},{"lo":1.5,"hi":2,"c":1.75},{"lo":2,"hi":2.5,"c":2.25},{"lo":2.5,"hi":3,"c":2.75},{"lo":3,"hi":3.5,"c":3.25},{"lo":3.5,"hi":4,"c":3.75},{"lo":4,"hi":4.5,"c":4.25},{"lo":4.5,"hi":5,"c":4.75},{"lo":5,"hi":5.5,"c":5.25},{"lo":5.5,"hi":6,"c":5.75},{"lo":6,"hi":6.5,"c":6.25},{"lo":6.5,"hi":7,"c":6.75},{"lo":7,"hi":7.5,"c":7.25},{"lo":7.5,"hi":8,"c":7.75},{"lo":8,"hi":8.5,"c":8.25},{"lo":8.5,"hi":9,"c":8.75},{"lo":9,"hi":9.5,"c":9.25},{"lo":9.5,"hi":10,"c":9.75},{"lo":10,"hi":10.5,"c":10.25},{"lo":10.5,"hi":11,"c":10.75},{"lo":11,"hi":11.5,"c":11.25},{"lo":11.5,"hi":12,"c":11.75},{"lo":12,"hi":12.5,"c":12.25},{"lo":12.5,"hi":13,"c":12.75},{"lo":13,"hi":13.5,"c":13.25},{"lo":13.5,"hi":14,"c":13.75},{"lo":14,"hi":14.5,"c":14.25},{"lo":14.5,"hi":15,"c":14.75},{"lo":15,"hi":15.5,"c":15.25},{"lo":15.5,"hi":16,"c":15.75},{"lo":16,"hi":16.5,"c":16.25},{"lo":16.5,"hi":17,"c":16.75},{"lo":17,"hi":17.5,"c":17.25},{"lo":17.5,"hi":18,"c":17.75},{"lo":18,"hi":18.5,"c":18.25},{"lo":18.5,"hi":19,"c":18.75},{"lo":19,"hi":19.5,"c":19.25},{"lo":19.5,"hi":20,"c":19.75},{"lo":20,"hi":20.5,"c":20.25},{"lo":20.5,"hi":21,"c":20.75},{"lo":21,"hi":21.5,"c":21.25},{"lo":21.5,"hi":22,"c":21.75},{"lo":22,"hi":22.5,"c":22.25},{"lo":22.5,"hi":23,"c":22.75},{"lo":23,"hi":23.5,"c":23.25},{"lo":23.5,"hi":24,"c":23.75},{"lo":24,"hi":24.5,"c":24.25},{"lo":24.5,"hi":25,"c":24.75},{"lo":25,"hi":25.1,"c":25.05}
]
},
"spacing":0,
"bounds":"flush",
"hconcat":[
{
"width":1129,"height":385,
"title":{"text":["Specific Humidity cross section and wind vectors parallel to cross section: crosssectionB","Latitudes: 51.71, 51.07, Longitudes: -1.98, 2.0","Simulation start time: 2023-04-14_00:00:00, Valid time: 2023-04-16T22:00:00.00"],"anchor":"start","frame":"group","font":"DejaVu Sans","fontSize":13.9,"fontWeight":"bold","lineHeight":15.6,"offset":-2,"color":"black"},
"layer":[
{"data":{"name":"fill"},"mark":{"type":"area","interpolate":"linear","clip":true},
"encoding":{
"x":{"field":"x","type":"quantitative","scale":{"domain":[0,62],"nice":false,"zero":false},"axis":{"values":[0,62],"labelExpr":"datum.value == 0 ? ['51.71', '-1.98'] : ['51.07', '2.0']","title":null,"labelLineHeight":16}},
"y":{"field":"hi","type":"quantitative","stack":null,"scale":{"domain":[0,10000],"nice":false,"zero":false},"axis":{"values":[0,1000,2000,3000,4000,5000,6000,7000,8000,9000,10000],"format":".1f","title":null,"minExtent":72,"maxExtent":72}},
"y2":{"field":"lo"},
"detail":{"field":"p","type":"nominal"},
"color":{"field":"q","type":"quantitative","scale":{"type":"linear","domain":[0,8.3667,16.7333,25.1],"range":["#ffffff","#0080aa","#000055","#008000"],"interpolate":"rgb"},"legend":null}}},
{"data":{"name":"cont"},"mark":{"type":"line","color":"black","strokeWidth":2,"clip":true},
"encoding":{"x":{"field":"x","type":"quantitative","scale":{"domain":[0,62],"nice":false,"zero":false}},"y":{"field":"z","type":"quantitative","scale":{"domain":[0,10000],"nice":false,"zero":false}},"detail":{"field":"c","type":"nominal"},"order":{"field":"o","type":"quantitative"}}},
{"data":{"name":"terrain"},"mark":{"type":"area","color":"black","clip":true},
"encoding":{"x":{"field":"x","type":"quantitative","scale":{"domain":[0,62],"nice":false,"zero":false}},"y":{"field":"h","type":"quantitative","scale":{"domain":[0,10000],"nice":false,"zero":false}}}},
{"data":{"name":"labs"},"mark":{"type":"text","font":"DejaVu Sans","fontSize":12.5,"color":"black","align":"center","baseline":"middle"},
"encoding":{"x":{"field":"x","type":"quantitative","scale":{"domain":[0,62],"nice":false,"zero":false}},"y":{"field":"z","type":"quantitative","scale":{"domain":[0,10000],"nice":false,"zero":false}},"text":{"field":"t"}}},
{"data":{"name":"vlabs"},"mark":{"type":"text","font":"DejaVu Sans","fontSize":12.5,"color":"black","align":"center","baseline":"middle","angle":270},
"encoding":{"x":{"field":"x","type":"quantitative","scale":{"domain":[0,62],"nice":false,"zero":false}},"y":{"field":"z","type":"quantitative","scale":{"domain":[0,10000],"nice":false,"zero":false}},"text":{"field":"t"}}},
{"data":{"name":"wind"},"mark":{"type":"point","filled":true,"color":"black","opacity":1,"strokeWidth":0,"clip":true},
"encoding":{"x":{"field":"x","type":"quantitative","scale":{"domain":[0,62],"nice":false,"zero":false}},"y":{"field":"z","type":"quantitative","scale":{"domain":[0,10000],"nice":false,"zero":false}},
"size":{"field":"s","type":"quantitative","scale":{"type":"pow","exponent":2,"domain":[0,50],"range":[0,900]},"legend":null},
"shape":{"condition":[{"test":"datum.s >= 30","value":"M-1,-0.1L0.3,-0.1L0.3,-0.32L1,0L0.3,0.32L0.3,0.1L-1,0.1Z"},{"test":"datum.s >= 22","value":"M-1,-0.13L0.05,-0.13L0.05,-0.42L1,0L0.05,0.42L0.05,0.13L-1,0.13Z"},{"test":"datum.s >= 15","value":"M-1,-0.16L-0.4,-0.16L-0.4,-0.55L1,0L-0.4,0.55L-0.4,0.16L-1,0.16Z"}],"value":"M-1,-0.2L-0.7,-0.2L-0.7,-0.7L1,0L-0.7,0.7L-0.7,0.2L-1,0.2Z"}}}
]
},
{
"width":34,"height":385,
"layer":[
{"data":{"name":"cbar"},"mark":{"type":"rect"},
"encoding":{"y":{"field":"lo","type":"quantitative","scale":{"domain":[0,25.1],"nice":false,"zero":false},"axis":{"orient":"right","values":[0,3,6,9,12,15,18,21,24],"format":"d","title":"Specific Humidity g/kg","titleAngle":270,"titleBaseline":"top","titlePadding":7}},"y2":{"field":"hi"},
"color":{"field":"c","type":"quantitative","scale":{"type":"linear","domain":[0,8.3667,16.7333,25.1],"range":["#ffffff","#0080aa","#000055","#008000"],"interpolate":"rgb"},"legend":null}}},
{"data":{"values":[{"s":50}]},"mark":{"type":"point","filled":true,"color":"black","opacity":1,"strokeWidth":0,"size":900,"shape":"M-1,-0.07L0.5,-0.07L0.5,-0.2L1,0L0.5,0.2L0.5,0.07L-1,0.07Z","clip":false},
"encoding":{"x":{"datum":0.53,"type":"quantitative","scale":{"domain":[0,1]},"axis":null},"y":{"datum":25.82,"type":"quantitative"}}},
{"data":{"values":[{"t":"50 m/s"}]},"mark":{"type":"text","font":"DejaVu Sans","fontSize":13.9,"color":"black","align":"left","baseline":"middle","clip":false},
"encoding":{"x":{"datum":1.29,"type":"quantitative","scale":{"domain":[0,1]},"axis":null},"y":{"datum":25.82,"type":"quantitative"},"text":{"field":"t"}}}
]
}
]
}
